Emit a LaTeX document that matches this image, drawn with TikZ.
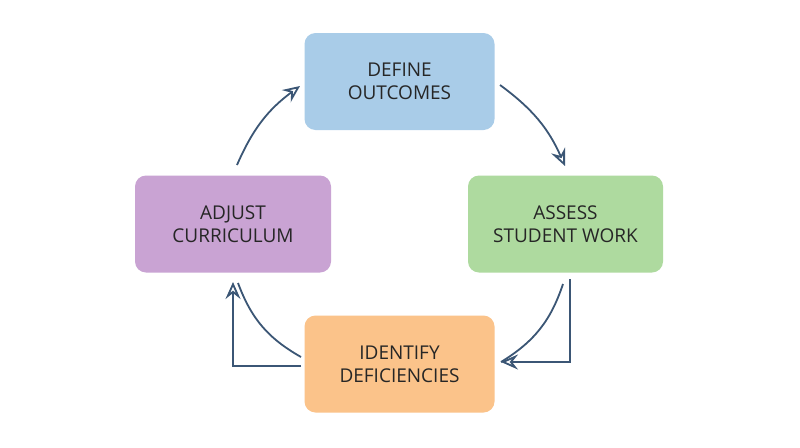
\documentclass[tikz,border=0pt]{standalone}
\usepackage{fontspec}
\setmainfont{Open Sans}
\usetikzlibrary{arrows.meta}
\definecolor{cblue}{HTML}{A9CCE8}
\definecolor{cgreen}{HTML}{AEDA9F}
\definecolor{corange}{HTML}{FBC38A}
\definecolor{cpurple}{HTML}{C9A3D3}
\definecolor{lc}{HTML}{3B5675}
\begin{document}
\begin{tikzpicture}[x=1pt,y=-1pt,
  box/.style={rounded corners=11pt,minimum width=190pt,minimum height=97pt,align=center,font=\fontsize{19}{23}\selectfont,text=black!85,inner sep=0pt},
  con/.style={draw=lc,line width=1.8pt,-{Stealth[open,length=17pt,width=15pt,inset=6pt]}},
  seg/.style={draw=lc,line width=1.8pt}]
\useasboundingbox (0,0) rectangle (800,447);
\fill[white] (0,0) rectangle (800,447);
\node[box,fill=cblue] (d) at (399.5,81.5) {DEFINE\\OUTCOMES};
\node[box,fill=cgreen,minimum width=195pt] (a) at (565.5,224) {ASSESS\\STUDENT WORK};
\node[box,fill=corange] (i) at (399.5,364) {IDENTIFY\\DEFICIENCIES};
\node[box,fill=cpurple,minimum width=196pt] (j) at (233,224) {ADJUST\\CURRICULUM};
\coordinate (a1) at (500,85);
\coordinate (a2) at (565,166);
\coordinate (b1) at (563,284);
\coordinate (b2) at (501,362);
\coordinate (b3) at (570,279);
\coordinate (b4) at (570,362);
\coordinate (c1) at (301,357);
\coordinate (c2) at (238,283);
\coordinate (c3) at (301,366);
\coordinate (c4) at (233,366);
\coordinate (c5) at (233,282);
\coordinate (e1) at (237,165);
\coordinate (e2) at (300,86);
\draw[con] (a1) to[bend left=15] (a2);
\draw[seg] (b1) to[bend left=20] (b2);
\draw[con] (b3) -- (b4) -- (b2);
\draw[seg] (c1) to[bend left=20] (c2);
\draw[con] (c3) -- (c4) -- (c5);
\draw[con] (e1) to[bend left=15] (e2);
\end{tikzpicture}
\end{document}
